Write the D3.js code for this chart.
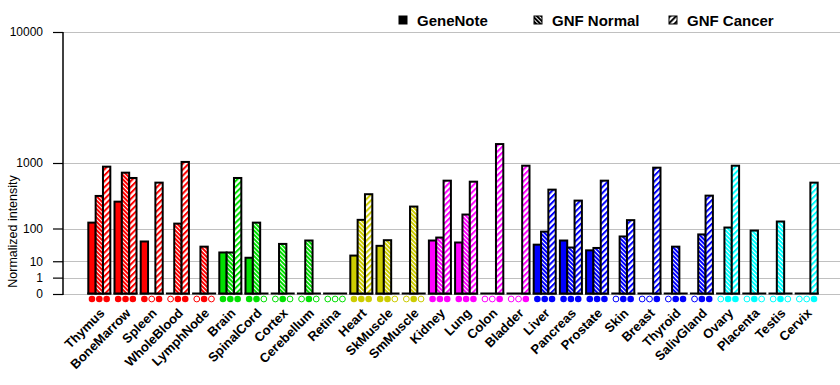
<!DOCTYPE html>
<html>
<head>
<meta charset="utf-8">
<script src="https://cdn.jsdelivr.net/npm/d3@7"></script>
<style>
  body { margin: 0; background: #fff; }
  svg { display: block; font-family: Arial, "Liberation Sans", sans-serif; }
</style>
</head>
<body>
<svg id="svg1" width="840" height="385"></svg>
<script>
"use strict";

// tissues, in the order of the x axis
const tissues = ["Thymus", "BoneMarrow", "Spleen", "WholeBlood", "LymphNode",
  "Brain", "SpinalCord", "Cortex", "Cerebellum", "Retina",
  "Heart", "SkMuscle", "SmMuscle",
  "Kidney", "Lung", "Colon", "Bladder",
  "Liver", "Pancreas", "Prostate", "Skin", "Breast", "Thyroid", "SalivGland",
  "Ovary", "Placenta", "Testis", "Cervix"];

// colour family of each tissue
const tissueColor = ["#ff0000", "#ff0000", "#ff0000", "#ff0000", "#ff0000",
  "#00e000", "#00e000", "#00e000", "#00e000", "#00e000",
  "#cccc00", "#cccc00", "#cccc00",
  "#ff00ff", "#ff00ff", "#ff00ff", "#ff00ff",
  "#0000ff", "#0000ff", "#0000ff", "#0000ff", "#0000ff", "#0000ff", "#0000ff",
  "#00ffff", "#00ffff", "#00ffff", "#00ffff"];

// normalized intensities
const geneNote  = [133, 313, 48, 0, 0, 22, 14, 0, 0, 0, 17, 36, 0, 51, 45, 0, 0, 39, 51, 26, 0, 0, 0, 0, 0, 0, 0, 0];
const gnfNormal = [382, 775, 0, 127, 34, 22, 133, 41, 51, 0, 151, 52, 261, 61, 190, 0, 0, 85, 32, 31, 65, 0, 34, 73, 105, 90, 140, 0];
const gnfCancer = [910, 668, 583, 1027, 0, 668, 0, 0, 0, 0, 405, 0, 0, 618, 600, 1566, 933, 470, 325, 618, 149, 886, 0, 386, 933, 0, 0, 583];

// present (1) / absent (0) calls, drawn as filled / hollow dots under the bars
const geneNoteCall  = [1, 1, 1, 0, 0, 1, 1, 0, 0, 0, 1, 1, 0, 1, 1, 0, 0, 1, 1, 1, 0, 0, 0, 0, 0, 0, 0, 0];
const gnfNormalCall = [1, 1, 0, 1, 1, 1, 1, 1, 1, 0, 1, 1, 1, 1, 1, 0, 0, 1, 1, 1, 1, 0, 1, 1, 1, 1, 1, 0];
const gnfCancerCall = [1, 1, 1, 1, 0, 1, 0, 0, 0, 0, 1, 0, 0, 1, 1, 1, 1, 1, 1, 1, 1, 1, 1, 1, 1, 0, 0, 1];

const seriesNames = ["GeneNote", "GNF Normal", "GNF Cancer"];
const yTicks = [0, 1, 10, 100, 1000, 10000];

const svg = d3.select("#svg1"),
      W = 840,
      axisX = 63,
      y0 = 294,
      yTop = 32;

// the axis halves its spacing every decade, i.e. a power scale with exponent log10(2)
const y = d3.scalePow().exponent(Math.log10(2)).domain([0, 10000]).range([y0, yTop]);

const x = d3.scaleBand().domain(tissues).range([axisX, 843])
  .paddingInner(0.16).paddingOuter(0.966);
const xs = d3.scaleBand().domain(seriesNames).range([0, x.bandwidth()]);

// hatch patterns: one "\\" (normal) and one "//" (cancer) per colour
const defs = svg.append("defs");
function makePatterns(key, col) {
  const pn = defs.append("pattern").attr("id", "pn" + key)
    .attr("patternUnits", "userSpaceOnUse").attr("width", 3).attr("height", 3)
    .attr("patternTransform", "rotate(-45)");
  pn.append("rect").attr("width", 3).attr("height", 3).attr("fill", col);
  pn.append("rect").attr("width", 1).attr("height", 3).attr("fill", "#fff");

  const pc = defs.append("pattern").attr("id", "pc" + key)
    .attr("patternUnits", "userSpaceOnUse").attr("width", 4.2).attr("height", 4.2)
    .attr("patternTransform", "rotate(45)");
  pc.append("rect").attr("width", 4.2).attr("height", 4.2).attr("fill", "#fff");
  pc.append("rect").attr("width", 2).attr("height", 4.2).attr("fill", col);
}
const colorKeys = Array.from(new Set(tissueColor));
colorKeys.concat(["#000000"]).forEach(c => makePatterns(c.slice(1), c));

// gridlines
svg.append("g").selectAll("line").data(yTicks).enter().append("line")
  .attr("x1", axisX).attr("x2", W)
  .attr("y1", d => Math.round(y(d)) + 0.5).attr("y2", d => Math.round(y(d)) + 0.5)
  .attr("stroke", "#c0c0c0").attr("stroke-width", 1);

// y axis
const gy = svg.append("g").attr("transform", `translate(${axisX},0)`)
  .call(d3.axisLeft(y).tickValues(yTicks).tickSize(10).tickPadding(10).tickFormat(d3.format("d")));
gy.select(".domain").remove();
gy.selectAll(".tick line").attr("stroke", "#000").attr("stroke-width", 1.2);
gy.selectAll(".tick text").attr("font-size", 12).attr("fill", "#000")
  .attr("font-family", "Arial, 'Liberation Sans', sans-serif");
svg.append("line").attr("x1", axisX).attr("x2", axisX).attr("y1", yTop).attr("y2", y0 + 1)
  .attr("stroke", "#000").attr("stroke-width", 1.5);

svg.append("text")
  .attr("transform", `translate(17,${(y0 + 167) / 2 + 1}) rotate(-90)`)
  .attr("text-anchor", "middle").attr("font-size", 12.5)
  .text("Normalized intensity");

// bars
const rows = tissues.map((t, i) => ({
  tissue: t, color: tissueColor[i],
  vals: [geneNote[i], gnfNormal[i], gnfCancer[i]],
  calls: [geneNoteCall[i], gnfNormalCall[i], gnfCancerCall[i]]
}));

const groups = svg.append("g").selectAll("g").data(rows).enter().append("g")
  .attr("transform", d => `translate(${x(d.tissue)},0)`);

// black baseline under every group (also shows when there is no bar)
groups.append("line")
  .attr("x1", -1).attr("x2", x.bandwidth() + 1)
  .attr("y1", y0 - 0.5).attr("y2", y0 - 0.5)
  .attr("stroke", "#000").attr("stroke-width", 2);

function fillFor(d, k) {
  const key = d.color.slice(1);
  if (k === 0) return d.color;
  if (k === 1) return `url(#pn${key})`;
  return `url(#pc${key})`;
}

groups.selectAll("rect.bar")
  .data(d => d.vals.map((v, k) => ({ v: v, k: k, row: d })).filter(e => e.v > 0))
  .enter().append("rect")
  .attr("class", "bar")
  .attr("x", e => xs(seriesNames[e.k]))
  .attr("y", e => y(e.v))
  .attr("width", xs.bandwidth())
  .attr("height", e => y0 - 0.5 - y(e.v))
  .attr("fill", e => fillFor(e.row, e.k))
  .attr("stroke", "#000").attr("stroke-width", 2);

// presence calls
groups.selectAll("circle")
  .data(d => d.calls.map((c, k) => ({ c: c, k: k, row: d })))
  .enter().append("circle")
  .attr("cx", e => xs(seriesNames[e.k]) + xs.bandwidth() / 2)
  .attr("cy", y0 + 5)
  .attr("r", e => e.c ? 3.3 : 2.9)
  .attr("fill", e => e.c ? e.row.color : "#fff")
  .attr("stroke", e => e.row.color)
  .attr("stroke-width", e => e.c ? 0 : 1);

// x labels
svg.append("g").selectAll("text").data(tissues).enter().append("text")
  .attr("transform", d => `translate(${x(d) + x.bandwidth() / 2 + 6},314) rotate(-45)`)
  .attr("text-anchor", "end")
  .attr("font-size", 13).attr("font-weight", "bold")
  .text(d => d);

// legend, hand made
const legendX = [399, 534, 669];
const legendFill = ["#000", "url(#pn000000)", "url(#pc000000)"];
const legend = svg.append("g").selectAll("g").data(seriesNames).enter().append("g")
  .attr("transform", (d, i) => `translate(${legendX[i]},16)`);
legend.append("rect").attr("width", 8).attr("height", 8)
  .attr("fill", (d, i) => legendFill[i])
  .attr("stroke", "#000").attr("stroke-width", 1);
legend.append("text").attr("x", 18).attr("y", 10)
  .attr("font-size", 15).attr("font-weight", "bold")
  .text(d => d);
</script>
</body>
</html>
